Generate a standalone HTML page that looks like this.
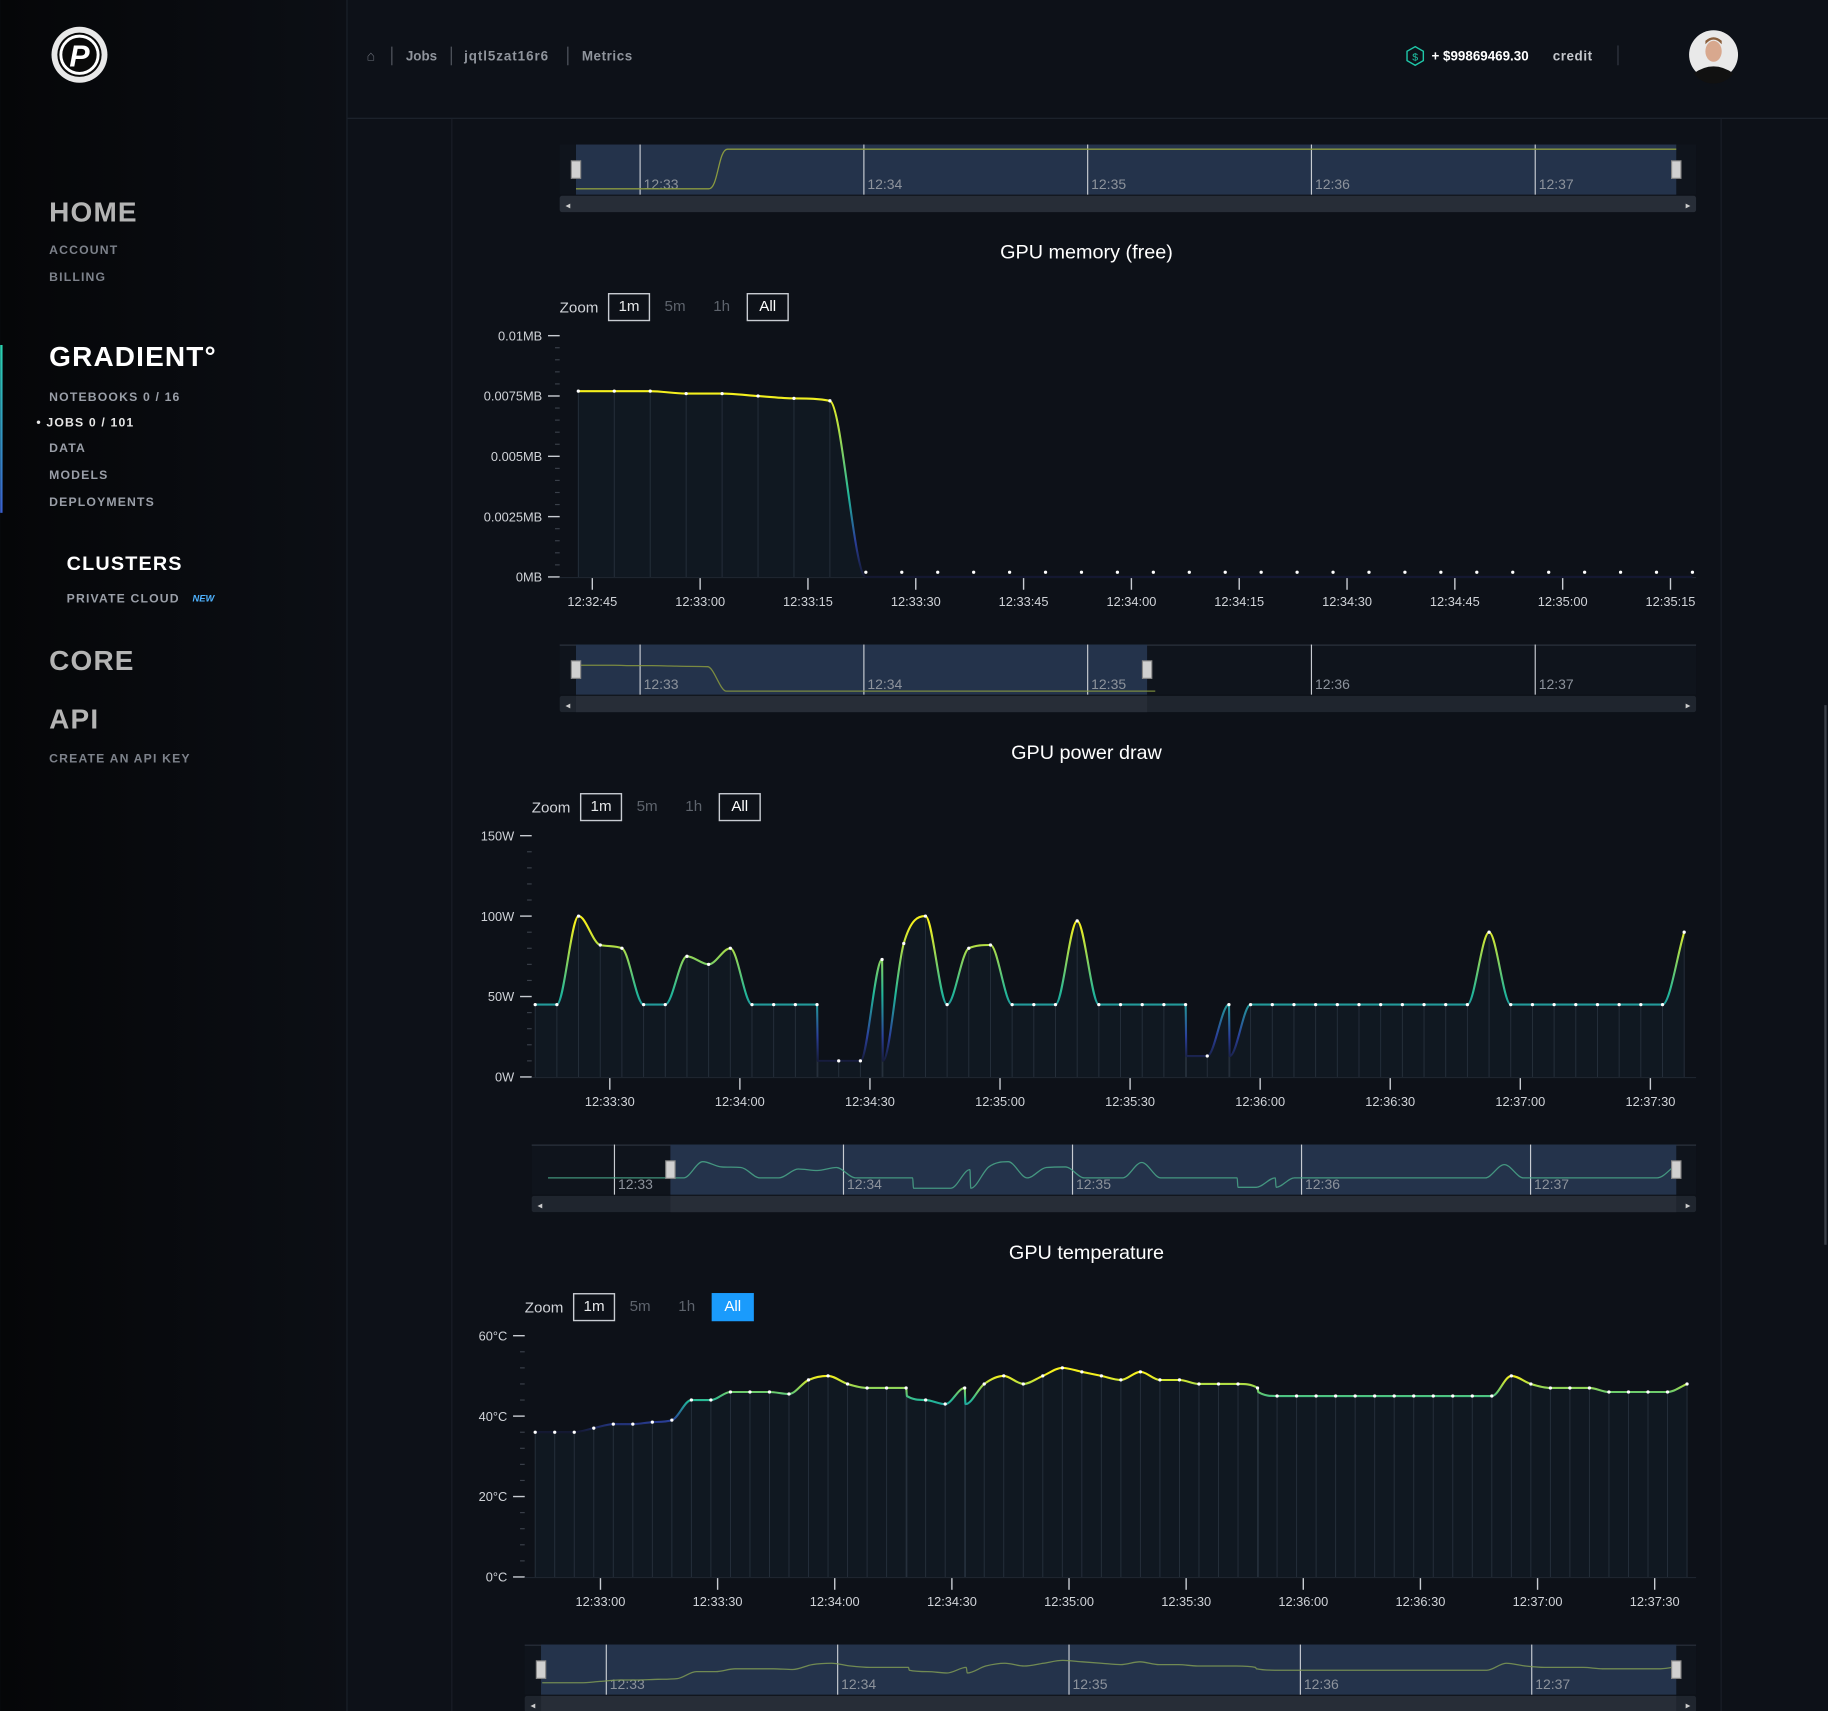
<!DOCTYPE html>
<html><head><meta charset="utf-8">
<style>
html,body{margin:0;padding:0;background:#0d1118;overflow:hidden}
svg{display:block}
text{font-family:"Liberation Sans Narrow","Liberation Sans",sans-serif}
.sb{font-family:"Liberation Sans",sans-serif;font-weight:bold}
</style></head>
<body>
<svg id="root" xmlns="http://www.w3.org/2000/svg" width="1828" height="1711" viewBox="0 0 1568 1468">
<defs>
<linearGradient id="sideg" x1="0" x2="1" y1="0" y2="0"><stop offset="0" stop-color="#050608"/><stop offset="1" stop-color="#0c0f15"/></linearGradient>
<linearGradient id="accent" x1="0" x2="0" y1="0" y2="1"><stop offset="0" stop-color="#2ad4b0"/><stop offset="1" stop-color="#3a5fd0"/></linearGradient>
</defs>
<rect x="0" y="0" width="1568" height="1468" fill="#0d1118"/>
<g>
<rect x="0" y="0" width="297" height="1468" fill="url(#sideg)"/>
<line x1="297.5" y1="0" x2="297.5" y2="1468" stroke="#1b212b"/>
<rect x="0" y="296" width="2" height="144" fill="url(#accent)"/>
<g>
<circle cx="68" cy="47" r="24" fill="#e8e8e8"/><circle cx="68" cy="47" r="19" fill="#0a0a0a"/><circle cx="68" cy="47" r="16" fill="none" stroke="#fff" stroke-width="2.5"/>
<text x="68" y="57" text-anchor="middle" class="sb" font-size="26" font-style="italic" fill="#fff">P</text></g>
<text x="42" y="190" class="sb" font-size="24" fill="#b4b4b4" letter-spacing="1">HOME</text>
<text x="42" y="218" class="sb" font-size="10.5" fill="#7d828b" letter-spacing="1">ACCOUNT</text>
<text x="42" y="241" class="sb" font-size="10.5" fill="#7d828b" letter-spacing="1">BILLING</text>
<text x="42" y="314" class="sb" font-size="24" fill="#ffffff" letter-spacing="1">GRADIENT°</text>
<text x="42" y="344" class="sb" font-size="10.5" fill="#9a9fa8" letter-spacing="1">NOTEBOOKS 0 / 16</text>
<text x="31" y="366" class="sb" font-size="10.5" fill="#e6e6e6" letter-spacing="1">• JOBS 0 / 101</text>
<text x="42" y="388" class="sb" font-size="10.5" fill="#9a9fa8" letter-spacing="1">DATA</text>
<text x="42" y="411" class="sb" font-size="10.5" fill="#9a9fa8" letter-spacing="1">MODELS</text>
<text x="42" y="434" class="sb" font-size="10.5" fill="#9a9fa8" letter-spacing="1">DEPLOYMENTS</text>
<text x="57" y="489" class="sb" font-size="17" fill="#ffffff" letter-spacing="1">CLUSTERS</text>
<text x="57" y="517" class="sb" font-size="10.5" fill="#9a9fa8" letter-spacing="1">PRIVATE CLOUD</text>
<text x="165" y="516" class="sb" font-size="8" fill="#4fb3ff" font-style="italic">NEW</text>
<text x="42" y="575" class="sb" font-size="24" fill="#b4b4b4" letter-spacing="1">CORE</text>
<text x="42" y="625" class="sb" font-size="24" fill="#b4b4b4" letter-spacing="1">API</text>
<text x="42" y="654" class="sb" font-size="10.5" fill="#7d828b" letter-spacing="1">CREATE AN API KEY</text>
</g>
<g>
<line x1="298" y1="101.5" x2="1568" y2="101.5" stroke="#1e242e"/>
<text x="318" y="52" text-anchor="middle" font-size="12" fill="#6c717a">⌂</text>
<line x1="336" y1="40" x2="336" y2="56" stroke="#555a63"/>
<text x="348" y="52" class="sb" font-size="11.5" fill="#8f949c">Jobs</text>
<line x1="387" y1="40" x2="387" y2="56" stroke="#555a63"/>
<text x="398" y="52" class="sb" font-size="11.5" fill="#8f949c" letter-spacing="0.8">jqtl5zat16r6</text>
<line x1="487" y1="40" x2="487" y2="56" stroke="#555a63"/>
<text x="499" y="52" class="sb" font-size="11.5" fill="#8f949c" letter-spacing="0.5">Metrics</text>
<polygon points="1214,40 1221,44 1221,52 1214,56 1207,52 1207,44" fill="none" stroke="#1fc7a8" stroke-width="1.2"/>
<text x="1214" y="52" text-anchor="middle" font-size="9" fill="#1fc7a8">$</text>
<text x="1228" y="52" class="sb" font-size="11.5" fill="#ffffff">+ $99869469.30</text>
<text x="1332" y="52" class="sb" font-size="11.5" fill="#c4c7cc" letter-spacing="0.5">credit</text>
<line x1="1388" y1="39" x2="1388" y2="56" stroke="#333943"/>
<g>
<circle cx="1470" cy="47" r="21" fill="#e9e9e9"/><ellipse cx="1470" cy="44" rx="7" ry="9" fill="#d8a88e"/><path d="M1463 38 q7 -8 14 0 l0 -3 q-7 -6 -14 0z" fill="#8a5e3c"/><path d="M1453 63 q17 -12 34 0 a21 21 0 0 1 -34 0z" fill="#111"/></g>
</g>
<line x1="387.5" y1="102" x2="387.5" y2="1468" stroke="#1a1f28"/>
<line x1="1476.5" y1="102" x2="1476.5" y2="1468" stroke="#1a1f28"/>
<rect x="1565" y="605" width="2" height="463" fill="#3a3f48"/>
<g id="charts"></g>
</svg>
<script>
// ---------- Data ----------
const memTimes = [0,5,10,15,20,25,30,35,40,45,50,55,60,65,70,75,80,85,90,95,100,105,110,115,120,125,130,135,140,145,150,155];
const memValues = [0.0077,0.0077,0.0077,0.0076,0.0076,0.0075,0.0074,0.0073,0,0,0,0,0,0,0,0,0,0,0,0,0,0,0,0,0,0,0,0,0,0,0,0];
const memTickLabels = ["12:32:45","12:33:00","12:33:15","12:33:30","12:33:45","12:34:00","12:34:15","12:34:30","12:34:45","12:35:00","12:35:15"];
const memYTicks = [0,0.0025,0.005,0.0075,0.01];
const memYLabels = ["0MB","0.0025MB","0.005MB","0.0075MB","0.01MB"];

const powerTimes = [0,5,10,15,20,25,30,35,40,45,50,55,60,65,65.2,70,75,80,80.2,85,90,95,100,105,110,115,120,125,130,135,140,145,150,150.2,155,160,160.2,165,170,175,180,185,190,195,200,205,210,215,220,225,230,235,240,245,250,255,260,265];
const powerValues = [45,45,100,82,80,45,45,75,70,80,45,45,45,45,10,10,10,73,10,83,100,45,80,82,45,45,45,97,45,45,45,45,45,13,13,45,13,45,45,45,45,45,45,45,45,45,45,45,90,45,45,45,45,45,45,45,45,90];
const powerTickLabels = ["12:33:30","12:34:00","12:34:30","12:35:00","12:35:30","12:36:00","12:36:30","12:37:00","12:37:30"];
const powerYTicks = [0,50,100,150];
const powerYLabels = ["0W","50W","100W","150W"];

const tempTimes = [0,5,10,15,20,25,30,35,40,45,50,55,60,65,70,75,80,85,90,95,95.2,100,105,110,110.2,115,120,125,130,135,140,145,150,155,160,165,170,175,180,185,185.2,190,195,200,205,210,215,220,225,230,235,240,245,250,255,260,265,270,275,280,285,290,295];
const tempValues = [36,36,36,37,38,38,38.5,39,44,44,46,46,46,45.5,49,50,48,47,47,47,45,44,43,47,43,48,50,48,50,52,51,50,49,51,49,49,48,48,48,47,46,45,45,45,45,45,45,45,45,45,45,45,45,50,48,47,47,47,46,46,46,46,48];
const tempTickLabels = ["12:33:00","12:33:30","12:34:00","12:34:30","12:35:00","12:35:30","12:36:00","12:36:30","12:37:00","12:37:30"];
const tempYTicks = [0,20,40,60];
const tempYLabels = ["0°C","20°C","40°C","60°C"];

const navLabels = ["12:33","12:34","12:35","12:36","12:37"];

// ---------- Helpers ----------
const NS = "http://www.w3.org/2000/svg";
const root = document.getElementById("charts");
function mk(tag, attrs, parent, txt){
  const e = document.createElementNS(NS, tag);
  for (const k in attrs) e.setAttribute(k, attrs[k]);
  if (txt !== undefined) e.textContent = txt;
  (parent || root).appendChild(e);
  return e;
}
function monoPath(pts){
  const n = pts.length; if (n < 2) return "";
  const dx=[], m=[], t=[];
  for (let i=0;i<n-1;i++){ dx[i]=pts[i+1][0]-pts[i][0]; m[i]=(pts[i+1][1]-pts[i][1])/dx[i]; }
  t[0]=m[0]; t[n-1]=m[n-2];
  for (let i=1;i<n-1;i++){ t[i]=(m[i-1]*m[i]<=0)?0:(m[i-1]+m[i])/2; }
  for (let i=0;i<n-1;i++){ if(m[i]===0){t[i]=0;t[i+1]=0;continue;} const a=t[i]/m[i], b=t[i+1]/m[i], s=a*a+b*b; if(s>9){const tau=3/Math.sqrt(s); t[i]=tau*a*m[i]; t[i+1]=tau*b*m[i];} }
  let d = "M"+pts[0][0].toFixed(1)+","+pts[0][1].toFixed(1);
  for (let i=0;i<n-1;i++){ const h=dx[i]/3;
    d += " C"+(pts[i][0]+h).toFixed(1)+","+(pts[i][1]+t[i]*h).toFixed(1)+" "+(pts[i+1][0]-h).toFixed(1)+","+(pts[i+1][1]-t[i+1]*h).toFixed(1)+" "+pts[i+1][0].toFixed(1)+","+pts[i+1][1].toFixed(1); }
  return d;
}
let gid = 0;
function drawChart(c, times, values, tickLabels, yTicks, yLabels){
  const g = mk("g", {});
  
  
  const title = mk("text", {x:932, y:c.titleY, "text-anchor":"middle", "font-size":"17", fill:"#ffffff", "font-family":"Liberation Sans, sans-serif"}, g, c.title);
  
  
  const zl = mk("text", {x:c.zoomX, y:c.zoomY+5, "font-size":"13", fill:"#d0d3d8"}, g, "Zoom");
  
  
  const bx = c.zoomX + 42;
  const b1 = mk("rect", {x:bx, y:c.zoomY-11, width:35, height:23, fill:"none", stroke:"#c8ccd2", "stroke-width":1.2}, g);
  
  
  mk("text", {x:bx+17.5, y:c.zoomY+4, "text-anchor":"middle", "font-size":"13", fill:"#e6e8ea"}, g, "1m");
  const b5 = mk("text", {x:bx+57, y:c.zoomY+4, "text-anchor":"middle", "font-size":"13", fill:"#5d636c"}, g, "5m");
  
  
  const bh = mk("text", {x:bx+97, y:c.zoomY+4, "text-anchor":"middle", "font-size":"13", fill:"#5d636c"}, g, "1h");
  
  
  const ba = mk("rect", {x:bx+119, y:c.zoomY-11, width:35, height:23, fill:c.allFilled?"#1a9bfc":"none", stroke:c.allFilled?"#1a9bfc":"#c8ccd2", "stroke-width":1.2}, g);
  
  
  mk("text", {x:bx+136.5, y:c.zoomY+4, "text-anchor":"middle", "font-size":"13", fill:"#ffffff"}, g, "All");
  const X = t => c.x0 + (t + c.tOff) * c.pxs;
  const Y = v => c.yBase - (v - yTicks[0]) / (yTicks[yTicks.length-1] - yTicks[0]) * (c.yBase - c.yTop);
  yTicks.forEach((v,i)=>{
    const y = Y(v);
    const tk = mk("line", {x1:c.axisX-10, x2:c.axisX, y1:y, y2:y, stroke:"#c8ccd2", "stroke-width":1.2}, g);
    
    
    const lb = mk("text", {x:c.axisX-15, y:y+4, "text-anchor":"end", "font-size":"11", fill:"#d0d3d8"}, g, yLabels[i]);
    
    
    if (i < yTicks.length-1){
      for (let k=1;k<5;k++){ const yy = y - (Y(v)-Y(yTicks[i+1]))*k/5;
        mk("line", {x1:c.axisX-4, x2:c.axisX, y1:yy, y2:yy, stroke:"#3a404a"}, g); }
    }
  });
  mk("line", {x1:c.axisX, x2:c.xEnd, y1:c.yBase+0.5, y2:c.yBase+0.5, stroke:"#1e252f"}, g);
  tickLabels.forEach((lab,i)=>{
    const x = c.tick0 + i * c.tickStep * c.pxs;
    const tk = mk("line", {x1:x, x2:x, y1:c.yBase+1, y2:c.yBase+11, stroke:"#c8ccd2", "stroke-width":1.2}, g);
    
    
    const lb = mk("text", {x:x, y:c.yBase+25, "text-anchor":"middle", "font-size":"11", fill:"#d0d3d8"}, g, lab);
    
    
  });
  const id = "lg"+(gid++);
  const lg = mk("linearGradient", {id:id, gradientUnits:"userSpaceOnUse", x1:0, x2:0, y1:Y(c.gHi), y2:Y(c.gLo)}, g);
  mk("stop", {offset:0, "stop-color":"#f4f01e"}, lg);
  mk("stop", {offset:c.gMid, "stop-color":"#21b79a"}, lg);
  mk("stop", {offset:0.8, "stop-color":"#2a3f9a"}, lg);
  mk("stop", {offset:1, "stop-color":"#141830"}, lg);
  const pts = times.map((t,i)=>[X(t), Y(values[i])]);
  const d = monoPath(pts);
  const area = mk("path", {d: d + " L"+pts[pts.length-1][0]+","+c.yBase+" L"+pts[0][0]+","+c.yBase+" Z", fill:"#121a24", opacity:0.8}, g);
  
  
  pts.forEach((p,i)=>{
    const vl = mk("line", {x1:p[0], x2:p[0], y1:p[1], y2:c.yBase, stroke:"#26303c", "stroke-width":0.8}, g);
    
    
  });
  const line = mk("path", {d:d, fill:"none", stroke:"url(#"+id+")", "stroke-width":1.8}, g);
  
  
  pts.forEach((p,i)=>{
    if (i>0 && times[i]-times[i-1] < 1) return;
    const dot = mk("circle", {cx:p[0], cy:Math.min(p[1], c.yBase-4), r:1.4, fill:"#ffffff"}, g);
    
    
  });
  drawNav(c.nav, times, values, yTicks, g);
}
function drawNav(n, times, values, yTicks, parent){
  const g = mk("g", {}, parent);
  
  
  mk("rect", {x:n.x0, y:n.y, width:n.x1-n.x0, height:43, fill:"#0f141c"}, g);
  mk("line", {x1:n.x0, x2:n.x1, y1:n.y+0.5, y2:n.y+0.5, stroke:"#2a313c"}, g);
  const sel = mk("rect", {x:n.s0, y:n.y, width:n.s1-n.s0, height:43, fill:"#24334b"}, g);
  
  
  navLabels.forEach((lab,i)=>{
    const x = n.l0 + i*n.lstep;
    mk("line", {x1:x, x2:x, y1:n.y, y2:n.y+43, stroke:"#c8ccd2", "stroke-width":1}, g);
    mk("text", {x:x+3, y:n.y+38, "font-size":"12", fill:"#8d939c"}, g, lab);
  });
  const vmin = (n.vmin !== undefined) ? n.vmin : yTicks[0];
  const X = t => n.dataX0 + (t + n.tOff) * n.lstep/60;
  const Y = v => n.y + 40 - (v - vmin)/(yTicks[yTicks.length-1]-vmin) * 40 * n.yScale;
  let pts = times.map((t,i)=>[X(t), Y(values[i])]);
  if (n.pre) pts = [[n.x0+14, pts[0][1]]].concat(pts);
  const ln = mk("path", {d:monoPath(pts), fill:"none", stroke:n.color, "stroke-width":1.1, opacity:0.85}, g);
  
  
  mk("rect", {x:n.x0, y:n.y+44, width:n.x1-n.x0, height:14, rx:2, fill:"#1f252e"}, g);
  mk("rect", {x:n.s0, y:n.y+44, width:n.s1-n.s0, height:14, fill:"#272d37"}, g);
  mk("text", {x:n.x0+7, y:n.y+55, "text-anchor":"middle", "font-size":"8", fill:"#ccc"}, g, "◂");
  mk("text", {x:n.x1-7, y:n.y+55, "text-anchor":"middle", "font-size":"8", fill:"#ccc"}, g, "▸");
  [n.s0, n.s1].forEach(x=>{
    const h = mk("rect", {x:x-4, y:n.y+14, width:8, height:15, fill:"#d0d0d0", stroke:"#888"}, g);
    
    
  });
}

(function(){
  const g = mk("g", {});
  
  
  const n = {x0:480,x1:1455,y:124,s0:494,s1:1438,l0:549,lstep:192};
  mk("rect", {x:n.x0, y:n.y, width:n.x1-n.x0, height:43, fill:"#0f141c"}, g);
  mk("rect", {x:n.s0, y:n.y, width:n.s1-n.s0, height:43, fill:"#24334b"}, g);
  navLabels.forEach((lab,i)=>{ const x=n.l0+i*n.lstep;
    mk("line", {x1:x,x2:x,y1:n.y,y2:n.y+43,stroke:"#c8ccd2"}, g);
    mk("text", {x:x+3,y:n.y+38,"font-size":"12",fill:"#8d939c"}, g, lab); });
  mk("path", {d:"M494,162 L608,162 C616,162 616,128 624,128 L1438,128", fill:"none", stroke:"#8a9a40", "stroke-width":1.1}, g);
  mk("rect", {x:n.x0, y:n.y+44, width:n.x1-n.x0, height:14, rx:2, fill:"#272d37"}, g);
  mk("text", {x:n.x0+7, y:n.y+55, "text-anchor":"middle", "font-size":"8", fill:"#ccc"}, g, "◂");
  mk("text", {x:n.x1-7, y:n.y+55, "text-anchor":"middle", "font-size":"8", fill:"#ccc"}, g, "▸");
  [n.s0,n.s1].forEach(x=>mk("rect",{x:x-4,y:n.y+14,width:8,height:15,fill:"#d0d0d0",stroke:"#888"},g));
})();

drawChart({name:"gpu-memory-chart", title:"GPU memory (free)", titleY:222, zoomX:480, zoomY:263, allFilled:false,
  axisX:480, xEnd:1455, x0:496, tOff:0, pxs:6.167, yTop:288, yBase:495, tick0:508, tickStep:15,
  gHi:0.0075, gLo:0, gMid:0.55,
  nav:{x0:480,x1:1455,y:553,s0:494,s1:984,l0:549,lstep:192,dataX0:495,tOff:0,yScale:0.72,color:"#8a9a40"}},
  memTimes, memValues, memTickLabels, memYTicks, memYLabels);

drawChart({name:"gpu-power-chart", title:"GPU power draw", titleY:651, zoomX:456, zoomY:692, allFilled:false,
  axisX:456, xEnd:1455, x0:459, tOff:0, pxs:3.72, yTop:717, yBase:924, tick0:523, tickStep:30,
  gHi:95, gLo:8, gMid:0.5,
  nav:{x0:456,x1:1455,y:982,s0:575,s1:1438,l0:527,lstep:196.5,dataX0:570,tOff:0,yScale:0.95,color:"#4aa88a",pre:true}},
  powerTimes, powerValues, powerTickLabels, powerYTicks, powerYLabels);

drawChart({name:"gpu-temperature-chart", title:"GPU temperature", titleY:1080, zoomX:450, zoomY:1121, allFilled:true,
  axisX:450, xEnd:1455, x0:459, tOff:0, pxs:3.35, yTop:1146, yBase:1353, tick0:515, tickStep:30,
  gHi:50, gLo:36, gMid:0.45,
  nav:{x0:450,x1:1455,y:1411,s0:464,s1:1438,l0:520,lstep:198.5,dataX0:465,tOff:0,yScale:0.9,vmin:30,color:"#7f9a55"}},
  tempTimes, tempValues, tempTickLabels, tempYTicks, tempYLabels);
</script>
</body></html>
